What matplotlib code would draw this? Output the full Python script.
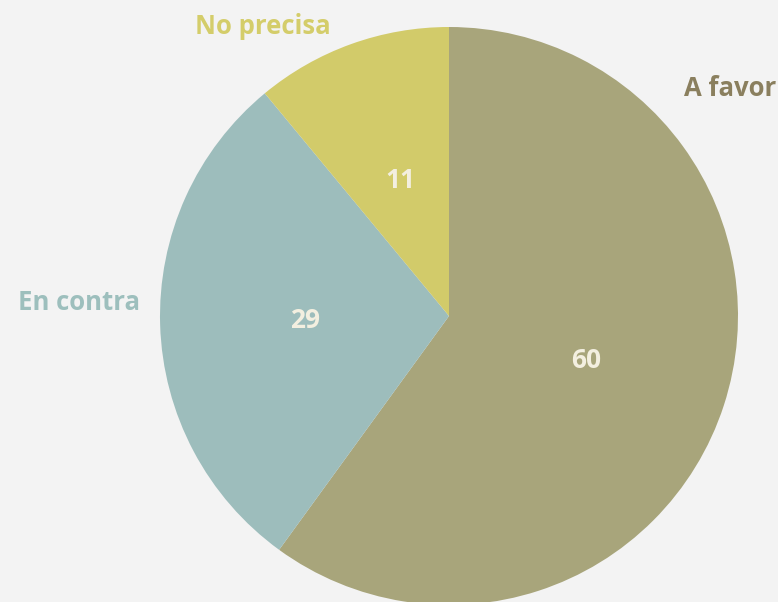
import matplotlib
matplotlib.use("Agg")
import matplotlib.pyplot as plt
import numpy as np

# data
labels = ["A favor", "En contra", "No precisa"]
values = [60, 29, 11]
colors = ["#a8a57b", "#9dbdbc", "#d2cb6a"]
label_colors = ["#8a7f5e", "#9dbfbd", "#d4cd6a"]

plt.rcParams['font.family'] = ['Open Sans', 'DejaVu Sans']

fig = plt.figure(figsize=(7.78, 6.02), dpi=100, facecolor="#f3f3f3")
ax = fig.add_axes([0, 0, 1, 1])
ax.set_facecolor("#f3f3f3")

wedges, texts = ax.pie(values, colors=colors, startangle=90, counterclock=False,
                       center=(449, 286), radius=289, frame=True,
                       wedgeprops=dict(linewidth=0))
ax.set_xlim(0, 778)
ax.set_ylim(0, 602)
ax.set_aspect("equal")
ax.axis("off")

# values inside slices
total = sum(values)
start = 90.0
for v in values:
    mid = start - v / total * 360 / 2
    start -= v / total * 360
    x = 449 + 144 * np.cos(np.radians(mid))
    y = 286 + 144 * np.sin(np.radians(mid))
    ax.text(x, y, str(v), ha="center", va="center", fontsize=19,
            fontweight="bold", color="#f3efe0")

# outside labels
label_pos = [(776, 513, "right"), (18, 300, "left"), (195, 576, "left")]
for (x, y, ha), lab, c in zip(label_pos, labels, label_colors):
    ax.text(x, y, lab, ha=ha, va="center", fontsize=18.5, fontweight="bold", color=c)

fig.savefig("out.png", dpi=100, facecolor=fig.get_facecolor())
